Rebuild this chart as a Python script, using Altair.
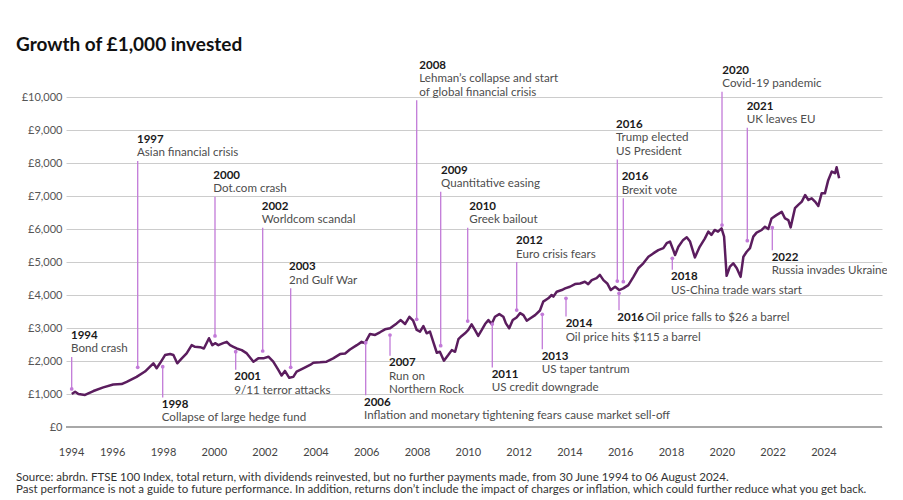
import altair as alt
import pandas as pd

# ---------------- data ----------------
years = [1994.41, 1994.54, 1994.67, 1994.93, 1995.26, 1995.65, 1996.04, 1996.37, 1996.57, 1996.96,
         1997.29, 1997.42, 1997.62, 1997.75, 1997.88, 1998.08, 1998.28, 1998.41, 1998.56, 1998.74,
         1998.93, 1999.13, 1999.26, 1999.46, 1999.61, 1999.81, 1999.94, 2000.05, 2000.18, 2000.37,
         2000.51, 2000.64, 2000.77, 2000.90, 2001.10, 2001.30, 2001.56, 2001.75, 2001.95, 2002.15,
         2002.34, 2002.54, 2002.67, 2002.80, 2002.97, 2003.13, 2003.26, 2003.52, 2003.79, 2003.92,
         2004.18, 2004.44, 2004.70, 2004.97, 2005.17, 2005.36, 2005.63, 2005.82, 2005.95, 2006.15,
         2006.35, 2006.54, 2006.74, 2006.94, 2007.20, 2007.36, 2007.53, 2007.70, 2007.85, 2007.99,
         2008.12, 2008.25, 2008.38, 2008.51, 2008.64, 2008.78, 2008.90, 2009.06, 2009.23, 2009.37,
         2009.50, 2009.63, 2009.76, 2009.89, 2010.02, 2010.15, 2010.28, 2010.41, 2010.55, 2010.68,
         2010.81, 2010.94, 2011.07, 2011.24, 2011.40, 2011.50, 2011.63, 2011.77, 2011.92, 2012.06,
         2012.19, 2012.32, 2012.45, 2012.65, 2012.84, 2012.97, 2013.17, 2013.30, 2013.37, 2013.50,
         2013.70, 2013.83, 2014.02, 2014.22, 2014.42, 2014.61, 2014.74, 2014.88, 2015.07, 2015.20,
         2015.34, 2015.49, 2015.63, 2015.80, 2015.96, 2016.12, 2016.32, 2016.52, 2016.71, 2016.91,
         2017.11, 2017.30, 2017.50, 2017.70, 2017.83, 2017.96, 2018.09, 2018.16, 2018.29, 2018.48,
         2018.62, 2018.75, 2018.94, 2019.13, 2019.33, 2019.47, 2019.59, 2019.72, 2019.85, 2019.99,
         2020.09, 2020.19, 2020.32, 2020.45, 2020.59, 2020.74, 2020.85, 2020.98, 2021.11, 2021.24,
         2021.37, 2021.57, 2021.70, 2021.83, 2021.96, 2022.15, 2022.36, 2022.49, 2022.62, 2022.71,
         2022.88, 2023.01, 2023.15, 2023.28, 2023.41, 2023.54, 2023.67, 2023.80, 2023.93, 2024.06,
         2024.19, 2024.33, 2024.46, 2024.52, 2024.62]
values = [1000, 1070, 1000, 970, 1090, 1200, 1290, 1300, 1370, 1520,
          1680, 1780, 1930, 1780, 1930, 2180, 2210, 2180, 1930, 2080,
          2230, 2480, 2430, 2420, 2380, 2690, 2480, 2540, 2480, 2540,
          2580, 2480, 2430, 2380, 2330, 2230, 1980, 2080, 2080, 2130,
          1980, 1730, 1560, 1700, 1490, 1520, 1680, 1780, 1880, 1950,
          1960, 1980, 2080, 2210, 2230, 2350, 2480, 2580, 2540, 2820,
          2790, 2870, 2960, 2990, 3140, 3240, 3120, 3340, 3220, 2940,
          2890, 3060, 2840, 2890, 2580, 2250, 2280, 2010, 2180, 2330,
          2280, 2660, 2760, 2840, 2940, 3110, 2940, 2760, 2940, 3120,
          3240, 3120, 3340, 3420, 3340, 3140, 2990, 3240, 3320, 3450,
          3390, 3220, 3290, 3390, 3530, 3800, 3900, 4000, 3950, 4100,
          4150, 4200, 4250, 4330, 4350, 4400, 4330, 4450, 4510, 4610,
          4450, 4350, 4150, 4250, 4150, 4200, 4300, 4550, 4810, 4960,
          5160, 5260, 5360, 5420, 5570, 5620, 5360, 5210, 5460, 5670,
          5750, 5620, 5140, 5460, 5710, 5920, 5820, 5970, 5920, 6020,
          5770, 4580, 4860, 4960, 4810, 4550, 5160, 5310, 5420, 5770,
          5890, 5970, 6070, 6000, 6320, 6420, 6520, 6320, 6270, 6050,
          6630, 6730, 6830, 7030, 6880, 6930, 6830, 6700, 7080, 7080,
          7480, 7740, 7690, 7870, 7540]

# annotations: label, description lines, x of pointer (year), x of text (year),
# value at the year label, value of the dot, text below the line?
ann_label = ["1994", "1997", "2000", "2002", "2003", "2008", "2009", "2010", "2012",
             "2016", "2016", "2020", "2021",
             "1998", "2001", "2006", "2007", "2011", "2013", "2014", "2016", "2018", "2022"]
ann_desc = [["Bond crash"], ["Asian financial crisis"], ["Dot.com crash"], ["Worldcom scandal"],
            ["2nd Gulf War"], ["Lehman\u2019s collapse and start", "of global financial crisis"],
            ["Quantitative easing"], ["Greek bailout"], ["Euro crisis fears"],
            ["Trump elected", "US President"], ["Brexit vote"], ["Covid-19 pandemic"], ["UK leaves EU"],
            ["Collapse of large hedge fund"], ["9/11 terror attacks"],
            ["Inflation and monetary tightening fears cause market sell-off"],
            ["Run on", "Northern Rock"], ["US credit downgrade"], ["US taper tantrum"],
            ["Oil price hits $115 a barrel"], ["Oil price falls to $26 a barrel"],
            ["US-China trade wars start"], ["Russia invades Ukraine"]]
ann_x = [1994.405, 1997.004, 2000.047, 2001.925, 2003.027, 2007.988, 2008.933, 2009.996, 2011.925,
         2015.886, 2016.122, 2020.008, 2021.004,
         1997.988, 2000.862, 2005.980, 2006.937, 2010.964, 2012.933, 2013.866, 2015.953, 2018.051, 2021.988]
ann_text_x = [1994.378, 1996.976, 1999.980, 2001.886, 2002.961, 2008.090, 2008.945, 2010.059, 2011.898,
              2015.835, 2016.059, 2020.020, 2020.980,
              1997.949, 2000.807, 2005.913, 2006.898, 2010.941, 2012.909, 2013.854, 2015.886, 2017.999, 2021.964]
ann_text_y = [2758, 8697, 7615, 6676, 4839, 10948, 7767, 6676, 5636,
              9152, 7567, 10797, 9706,
              667, 1506, 736, 1930, 1576, 2130, 3121, 3312, 4536, 5130]
ann_dot = [1152, 1809, 2758, 2303, 1809, 3264, 2464, 3212, 3545,
           4424, 4403, 6121, 5645,
           1827, 2282, 2555, 2788, 3121, 3415, 3900, 4052, 5112, 6039]
ann_below = [False] * 13 + [True] * 10
ann_inline_desc_x = {20: 2017.004}   # "2016 Oil price falls..." sits on one line

y_ticks = list(range(0, 10001, 1000))
x_ticks = [1994.38] + list(range(1996, 2025, 2))

title_text = "Growth of \u00a31,000 invested"
footer_lines = [
    "Source: abrdn. FTSE 100 Index, total return, with dividends reinvested, but no further payments made, from 30 June 1994 to 06 August 2024.",
    "Past performance is not a guide to future performance. In addition, returns don\u2019t include the impact of charges or inflation, which could further reduce what you get back.",
]

# ---------------- build tables ----------------
LINE_STEP = 409   # one text line in value units
GAP = 227         # gap between text and pointer line

series = pd.DataFrame({"x": years, "y": values})

text_rows, rule_rows, dot_rows = [], [], []
for i, lab in enumerate(ann_label):
    tx, ty = ann_text_x[i], ann_text_y[i]
    text_rows.append({"x": tx, "y": ty, "t": lab, "kind": "year"})
    lines = ann_desc[i]
    if i in ann_inline_desc_x:
        text_rows.append({"x": ann_inline_desc_x[i], "y": ty, "t": lines[0], "kind": "desc"})
        n = 0
    else:
        for j, ln in enumerate(lines):
            text_rows.append({"x": tx, "y": ty - (j + 1) * LINE_STEP, "t": ln, "kind": "desc"})
        n = len(lines)
    if ann_below[i]:
        end = ty + GAP
    else:
        end = ty - n * LINE_STEP - GAP
    rule_rows.append({"x": ann_x[i], "y": ann_dot[i], "y2": end})
    dot_rows.append({"x": ann_x[i], "y": ann_dot[i]})

texts = pd.DataFrame(text_rows)
rules = pd.DataFrame(rule_rows)
dots = pd.DataFrame(dot_rows)

FONT = "Lato"
LINE_COLOR = "#5b1d5e"
ANN_COLOR = "#c27ad8"

xscale = alt.Scale(domain=[1994.181, 2026.307], nice=False, zero=False)
yscale = alt.Scale(domain=[0, 10000], nice=False, zero=True)

x_axis = alt.Axis(values=x_ticks, labelExpr="floor(datum.value)", grid=False, domain=False,
                  ticks=False, tickSize=0, labelPadding=19, labelFontSize=11, labelColor="#444444",
                  labelFont=FONT, labelOverlap=False, labelFlush=False, title=None)
y_axis = alt.Axis(values=y_ticks, labelExpr="'\u00a3' + format(datum.value, ',')", grid=True,
                  gridColor="#cccccc", gridWidth=1, domain=False, ticks=False, tickSize=0,
                  labelPadding=4, labelFontSize=11, labelColor="#555555", labelFont=FONT, title=None)

X = alt.X("x:Q", scale=xscale, axis=x_axis)
Y = alt.Y("y:Q", scale=yscale, axis=y_axis)

base_line = alt.Chart(series).mark_line(color=LINE_COLOR, strokeWidth=2.5,
                                         strokeJoin="round").encode(x=X, y=Y)

zero_rule = alt.Chart(pd.DataFrame({"y": [0]})).mark_rule(color="#a8a8a8", strokeWidth=2).encode(y=Y)

ann_rules = alt.Chart(rules).mark_rule(color=ANN_COLOR, strokeWidth=1.3).encode(
    x=X, y=Y, y2="y2:Q")

ann_dots = alt.Chart(dots).mark_circle(color=ANN_COLOR, size=14, opacity=1).encode(x=X, y=Y)

year_text = alt.Chart(texts).transform_filter("datum.kind == 'year'").mark_text(
    align="left", baseline="middle", font=FONT, fontSize=11.5, fontWeight="bold", color="#1a1a1a"
).encode(x=X, y=Y, text="t:N")

desc_text = alt.Chart(texts).transform_filter("datum.kind == 'desc'").mark_text(
    align="left", baseline="middle", font=FONT, fontSize=11.6, color="#4d4d4d"
).encode(x=X, y=Y, text="t:N")

title = alt.Chart(pd.DataFrame({"t": [title_text]})).mark_text(
    align="left", baseline="middle", font=FONT, fontSize=19, fontWeight="bold", color="#111111"
).encode(x=alt.value(-50), y=alt.value(-52), text="t:N")

footer = alt.Chart(pd.DataFrame({"t": footer_lines, "yy": [381, 393]})).mark_text(
    align="left", baseline="middle", font=FONT, fontSize=11.5, color="#333333"
).encode(x=alt.value(-50), y=alt.Y("yy:Q", scale=None), text="t:N")

chart = alt.layer(base_line, zero_rule, ann_rules, ann_dots, year_text, desc_text, title, footer).properties(
    width=816, height=330,
    autosize=alt.AutoSizeParams(type="none"),
    padding={"left": 58, "top": 89, "right": 5, "bottom": 68},
    background="white",
).configure_view(stroke=None)

chart.save("out.html", embed_options={"renderer": "svg", "actions": False})
